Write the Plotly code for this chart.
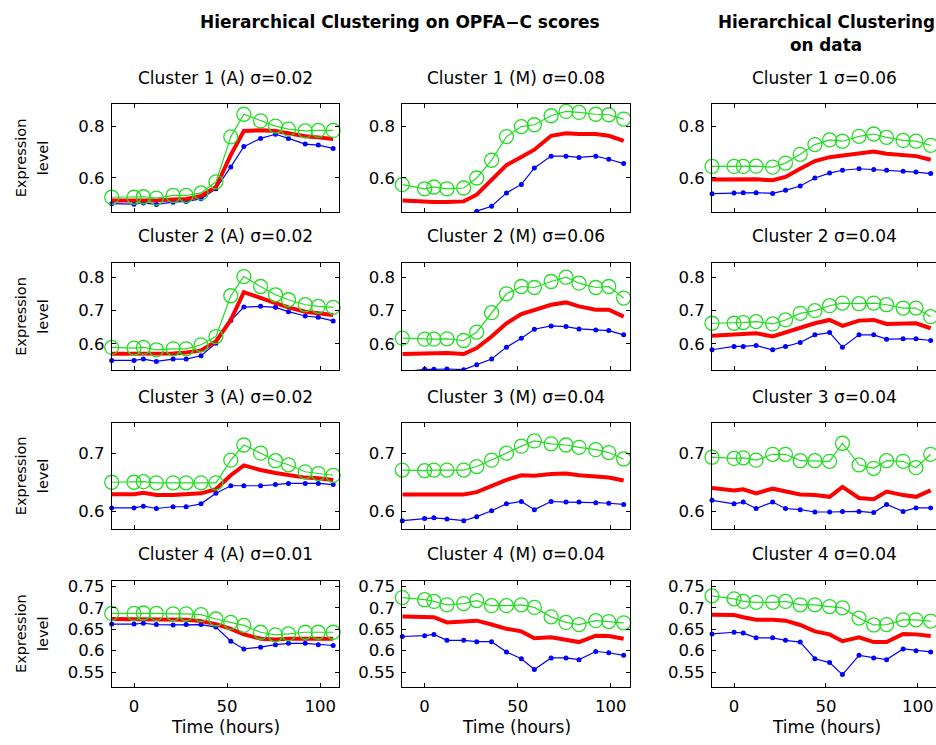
import plotly.graph_objects as go

TIME = [-12, 0, 5, 12, 21, 28, 36, 44, 52, 59, 68, 76, 83, 92, 99, 107]

# Column 1: OPFA-C scores, cluster type (A)
A1_GREEN = [0.525, 0.525, 0.527, 0.522, 0.532, 0.532, 0.542, 0.585, 0.76, 0.848, 0.822, 0.802, 0.79, 0.783, 0.785, 0.785]
A1_RED = [0.512, 0.512, 0.513, 0.512, 0.516, 0.518, 0.53, 0.565, 0.69, 0.783, 0.786, 0.783, 0.774, 0.762, 0.758, 0.752]
A1_BLUE = [0.50, 0.498, 0.503, 0.497, 0.506, 0.509, 0.519, 0.558, 0.643, 0.722, 0.754, 0.77, 0.754, 0.732, 0.728, 0.715]
A2_GREEN = [0.589, 0.587, 0.589, 0.582, 0.585, 0.585, 0.597, 0.622, 0.745, 0.803, 0.773, 0.748, 0.733, 0.718, 0.713, 0.71]
A2_RED = [0.570, 0.570, 0.570, 0.569, 0.571, 0.574, 0.580, 0.607, 0.672, 0.756, 0.74, 0.723, 0.71, 0.697, 0.692, 0.687]
A2_BLUE = [0.55, 0.55, 0.554, 0.547, 0.554, 0.554, 0.564, 0.602, 0.670, 0.711, 0.713, 0.71, 0.697, 0.684, 0.680, 0.669]
A3_GREEN = [0.65, 0.65, 0.651, 0.649, 0.649, 0.649, 0.649, 0.649, 0.688, 0.714, 0.7, 0.687, 0.68, 0.668, 0.665, 0.662]
A3_RED = [0.6295, 0.6295, 0.632, 0.628, 0.628, 0.629, 0.631, 0.638, 0.662, 0.679, 0.671, 0.666, 0.662, 0.658, 0.657, 0.654]
A3_BLUE = [0.606, 0.606, 0.609, 0.605, 0.608, 0.608, 0.613, 0.631, 0.644, 0.644, 0.644, 0.646, 0.648, 0.648, 0.648, 0.646]
A4_GREEN = [0.687, 0.687, 0.688, 0.687, 0.686, 0.686, 0.684, 0.674, 0.666, 0.659, 0.643, 0.637, 0.639, 0.643, 0.643, 0.643]
A4_RED = [0.674, 0.674, 0.673, 0.672, 0.672, 0.672, 0.669, 0.662, 0.651, 0.638, 0.628, 0.626, 0.628, 0.628, 0.628, 0.628]
A4_BLUE = [0.662, 0.662, 0.664, 0.661, 0.66, 0.661, 0.661, 0.655, 0.622, 0.604, 0.608, 0.614, 0.617, 0.617, 0.614, 0.612]

# Column 2: OPFA-C scores, cluster type (M)
M1_GREEN = [0.574, 0.558, 0.565, 0.558, 0.561, 0.60, 0.669, 0.761, 0.80, 0.807, 0.842, 0.859, 0.855, 0.848, 0.846, 0.829]
M1_RED = [0.512, 0.507, 0.507, 0.507, 0.509, 0.535, 0.59, 0.65, 0.682, 0.71, 0.764, 0.774, 0.771, 0.771, 0.764, 0.744]
M1_BLUE = [0.44, 0.435, 0.437, 0.436, 0.45, 0.471, 0.49, 0.542, 0.575, 0.639, 0.685, 0.685, 0.68, 0.685, 0.673, 0.656]
M2_GREEN = [0.617, 0.614, 0.614, 0.615, 0.61, 0.635, 0.694, 0.751, 0.773, 0.77, 0.788, 0.801, 0.783, 0.77, 0.773, 0.738]
M2_RED = [0.569, 0.57, 0.571, 0.572, 0.569, 0.587, 0.622, 0.662, 0.69, 0.703, 0.718, 0.725, 0.713, 0.703, 0.703, 0.682]
M2_BLUE = [0.515, 0.523, 0.523, 0.524, 0.522, 0.537, 0.554, 0.59, 0.617, 0.644, 0.654, 0.652, 0.645, 0.642, 0.640, 0.627]
M3_GREEN = [0.671, 0.67, 0.671, 0.671, 0.671, 0.677, 0.688, 0.7, 0.712, 0.721, 0.716, 0.714, 0.71, 0.706, 0.701, 0.69]
M3_RED = [0.629, 0.629, 0.63, 0.63, 0.629, 0.633, 0.644, 0.654, 0.662, 0.661, 0.664, 0.665, 0.662, 0.66, 0.658, 0.653]
M3_BLUE = [0.584, 0.588, 0.589, 0.587, 0.584, 0.591, 0.601, 0.613, 0.617, 0.603, 0.617, 0.616, 0.616, 0.615, 0.614, 0.612]
M4_GREEN = [0.724, 0.719, 0.715, 0.707, 0.71, 0.717, 0.705, 0.705, 0.707, 0.701, 0.679, 0.666, 0.661, 0.67, 0.668, 0.665]
M4_RED = [0.68, 0.679, 0.678, 0.666, 0.668, 0.67, 0.661, 0.651, 0.645, 0.629, 0.631, 0.624, 0.62, 0.635, 0.634, 0.628]
M4_BLUE = [0.633, 0.635, 0.638, 0.624, 0.624, 0.621, 0.621, 0.597, 0.581, 0.556, 0.583, 0.583, 0.579, 0.598, 0.595, 0.589]

# Column 3: hierarchical clustering on data
D1_GREEN = [0.645, 0.645, 0.645, 0.646, 0.642, 0.658, 0.692, 0.73, 0.748, 0.743, 0.762, 0.771, 0.758, 0.746, 0.743, 0.727]
D1_RED = [0.594, 0.594, 0.594, 0.595, 0.591, 0.604, 0.636, 0.666, 0.681, 0.688, 0.698, 0.703, 0.694, 0.688, 0.685, 0.671]
D1_BLUE = [0.539, 0.542, 0.543, 0.543, 0.540, 0.552, 0.569, 0.60, 0.619, 0.63, 0.636, 0.633, 0.63, 0.626, 0.623, 0.617]
D2_GREEN = [0.662, 0.662, 0.664, 0.667, 0.66, 0.672, 0.692, 0.7, 0.715, 0.723, 0.721, 0.723, 0.718, 0.708, 0.708, 0.682]
D2_RED = [0.624, 0.629, 0.629, 0.632, 0.622, 0.634, 0.65, 0.662, 0.672, 0.654, 0.670, 0.672, 0.660, 0.660, 0.662, 0.647]
D2_BLUE = [0.582, 0.592, 0.592, 0.595, 0.582, 0.592, 0.604, 0.627, 0.634, 0.59, 0.627, 0.627, 0.614, 0.615, 0.615, 0.61]
D3_GREEN = [0.693, 0.691, 0.692, 0.688, 0.698, 0.698, 0.687, 0.687, 0.686, 0.717, 0.68, 0.674, 0.687, 0.686, 0.675, 0.698]
D3_RED = [0.64, 0.636, 0.638, 0.631, 0.639, 0.635, 0.629, 0.628, 0.625, 0.642, 0.623, 0.621, 0.634, 0.628, 0.625, 0.636]
D3_BLUE = [0.619, 0.613, 0.616, 0.605, 0.616, 0.605, 0.603, 0.599, 0.599, 0.6, 0.6, 0.598, 0.612, 0.6, 0.606, 0.606]
D4_GREEN = [0.728, 0.721, 0.715, 0.713, 0.713, 0.715, 0.707, 0.707, 0.703, 0.7, 0.676, 0.66, 0.661, 0.672, 0.672, 0.669]
D4_RED = [0.684, 0.683, 0.678, 0.672, 0.672, 0.67, 0.66, 0.645, 0.638, 0.622, 0.631, 0.62, 0.62, 0.639, 0.638, 0.634]
D4_BLUE = [0.639, 0.643, 0.641, 0.63, 0.63, 0.624, 0.62, 0.581, 0.572, 0.544, 0.589, 0.583, 0.579, 0.604, 0.6, 0.597]

TITLES = [
    ["Cluster 1 (A) σ=0.02", "Cluster 1 (M) σ=0.08", "Cluster 1 σ=0.06"],
    ["Cluster 2 (A) σ=0.02", "Cluster 2 (M) σ=0.06", "Cluster 2 σ=0.04"],
    ["Cluster 3 (A) σ=0.02", "Cluster 3 (M) σ=0.04", "Cluster 3 σ=0.04"],
    ["Cluster 4 (A) σ=0.01", "Cluster 4 (M) σ=0.04", "Cluster 4 σ=0.04"],
]
HEADER_LEFT = "Hierarchical Clustering on OPFA−C scores"
HEADER_RIGHT_1 = "Hierarchical Clustering"
HEADER_RIGHT_2 = "on data"
X_TICKS = [0, 50, 100]
Y_TICKS = [[0.6, 0.8], [0.6, 0.7, 0.8], [0.6, 0.7], [0.55, 0.6, 0.65, 0.7, 0.75]]
Y_TICKTEXT = [["0.6", "0.8"], ["0.6", "0.7", "0.8"], ["0.6", "0.7"], ["0.55", "0.6", "0.65", "0.7", "0.75"]]
Y_RANGES = [[0.467, 0.886], [0.52, 0.843], [0.57, 0.751], [0.515, 0.763]]
X_LABEL = "Time (hours)"
Y_LABEL_1 = "Expression"
Y_LABEL_2 = "level"

PANELS = [
    [(A1_GREEN, A1_RED, A1_BLUE), (M1_GREEN, M1_RED, M1_BLUE), (D1_GREEN, D1_RED, D1_BLUE)],
    [(A2_GREEN, A2_RED, A2_BLUE), (M2_GREEN, M2_RED, M2_BLUE), (D2_GREEN, D2_RED, D2_BLUE)],
    [(A3_GREEN, A3_RED, A3_BLUE), (M3_GREEN, M3_RED, M3_BLUE), (D3_GREEN, D3_RED, D3_BLUE)],
    [(A4_GREEN, A4_RED, A4_BLUE), (M4_GREEN, M4_RED, M4_BLUE), (D4_GREEN, D4_RED, D4_BLUE)],
]

W, H = 936, 745
COL_PX = [(111.7, 339.3), (402.3, 629.8), (712.0, 936.0)]
ROW_PX = [(101.0, 209.3), (260.7, 368.3), (421.7, 527.7), (580.0, 686.7)]
X_RANGES = [[-12, 110.3], [-12, 110.3], [-12, 109.9]]

FONT = "DejaVu Sans, Verdana, sans-serif"
GREEN = "#22dd22"
RED = "#ff0000"
BLUE = "#0000ff"

fig = go.Figure()
layout = {}
annotations = []


def ann(text, x, y, size, **kw):
    d = dict(text=text, x=x / W, y=1 - y / H, xref="paper", yref="paper",
             xanchor="center", yanchor="middle", showarrow=False,
             font=dict(family=FONT, size=size, color="black"))
    d.update(kw)
    return d


for i in range(4):
    for j in range(3):
        k = i * 3 + j + 1
        xs = "" if k == 1 else str(k)
        green, red, blue = PANELS[i][j]
        ylo, yhi = Y_RANGES[i]
        blue_inside = all(ylo <= v <= yhi for v in blue)
        fig.add_trace(go.Scatter(
            x=TIME, y=blue, mode="lines+markers", xaxis="x" + xs, yaxis="y" + xs,
            line=dict(color=BLUE, width=1.2), marker=dict(color=BLUE, size=5, symbol="circle"),
            cliponaxis=not blue_inside, showlegend=False, hoverinfo="skip"))
        fig.add_trace(go.Scatter(
            x=TIME, y=red, mode="lines", xaxis="x" + xs, yaxis="y" + xs,
            line=dict(color=RED, width=4), showlegend=False, hoverinfo="skip"))
        fig.add_trace(go.Scatter(
            x=TIME, y=green, mode="lines+markers", xaxis="x" + xs, yaxis="y" + xs,
            line=dict(color=GREEN, width=1.2),
            marker=dict(symbol="circle-open", size=14, color=GREEN, line=dict(width=1.3, color=GREEN)),
            cliponaxis=False, showlegend=False, hoverinfo="skip"))

        x0, x1 = COL_PX[j]
        yt, yb = ROW_PX[i]
        layout["xaxis" + xs] = dict(
            domain=[x0 / W, x1 / W], anchor="y" + xs, range=X_RANGES[j],
            tickvals=X_TICKS, ticks="inside", ticklen=4, tickcolor="black",
            showline=True, linecolor="black", linewidth=1, mirror="ticks",
            showgrid=False, zeroline=False, showticklabels=(i == 3),
            ticklabelstandoff=4,
            tickfont=dict(family=FONT, size=16.5, color="black"))
        layout["yaxis" + xs] = dict(
            domain=[1 - yb / H, 1 - yt / H], anchor="x" + xs, range=Y_RANGES[i],
            tickvals=Y_TICKS[i], ticktext=Y_TICKTEXT[i], ticks="inside", ticklen=4,
            tickcolor="black", showline=True, linecolor="black", linewidth=1,
            mirror=("ticks" if j < 2 else False),
            showgrid=False, zeroline=False, ticklabelstandoff=3,
            tickfont=dict(family=FONT, size=16.5, color="black"))
        annotations.append(ann(TITLES[i][j], (x0 + x1) / 2, yt - 27, 17))
    yt, yb = ROW_PX[i]
    annotations.append(ann(Y_LABEL_1, 21, (yt + yb) / 2, 14.5, textangle=-90))
    annotations.append(ann(Y_LABEL_2, 43, (yt + yb) / 2, 14.5, textangle=-90))

for j in range(3):
    x0, x1 = COL_PX[j]
    cx = (x0 + x1) / 2 if j < 2 else 826
    annotations.append(ann(X_LABEL, cx, 727, 17))

annotations.append(ann("<b>" + HEADER_LEFT + "</b>", 400, 18, 17))
annotations.append(ann("<b>" + HEADER_RIGHT_1 + "</b>", 826, 18, 16.8))
annotations.append(ann("<b>" + HEADER_RIGHT_2 + "</b>", 826, 41, 16.8))

fig.update_layout(
    width=W, height=H, margin=dict(l=0, r=0, t=0, b=0),
    paper_bgcolor="white", plot_bgcolor="white",
    annotations=annotations, **layout)

fig.write_html("out.html", config={"displayModeBar": False},
               post_script="document.body.style.margin='0px';")
